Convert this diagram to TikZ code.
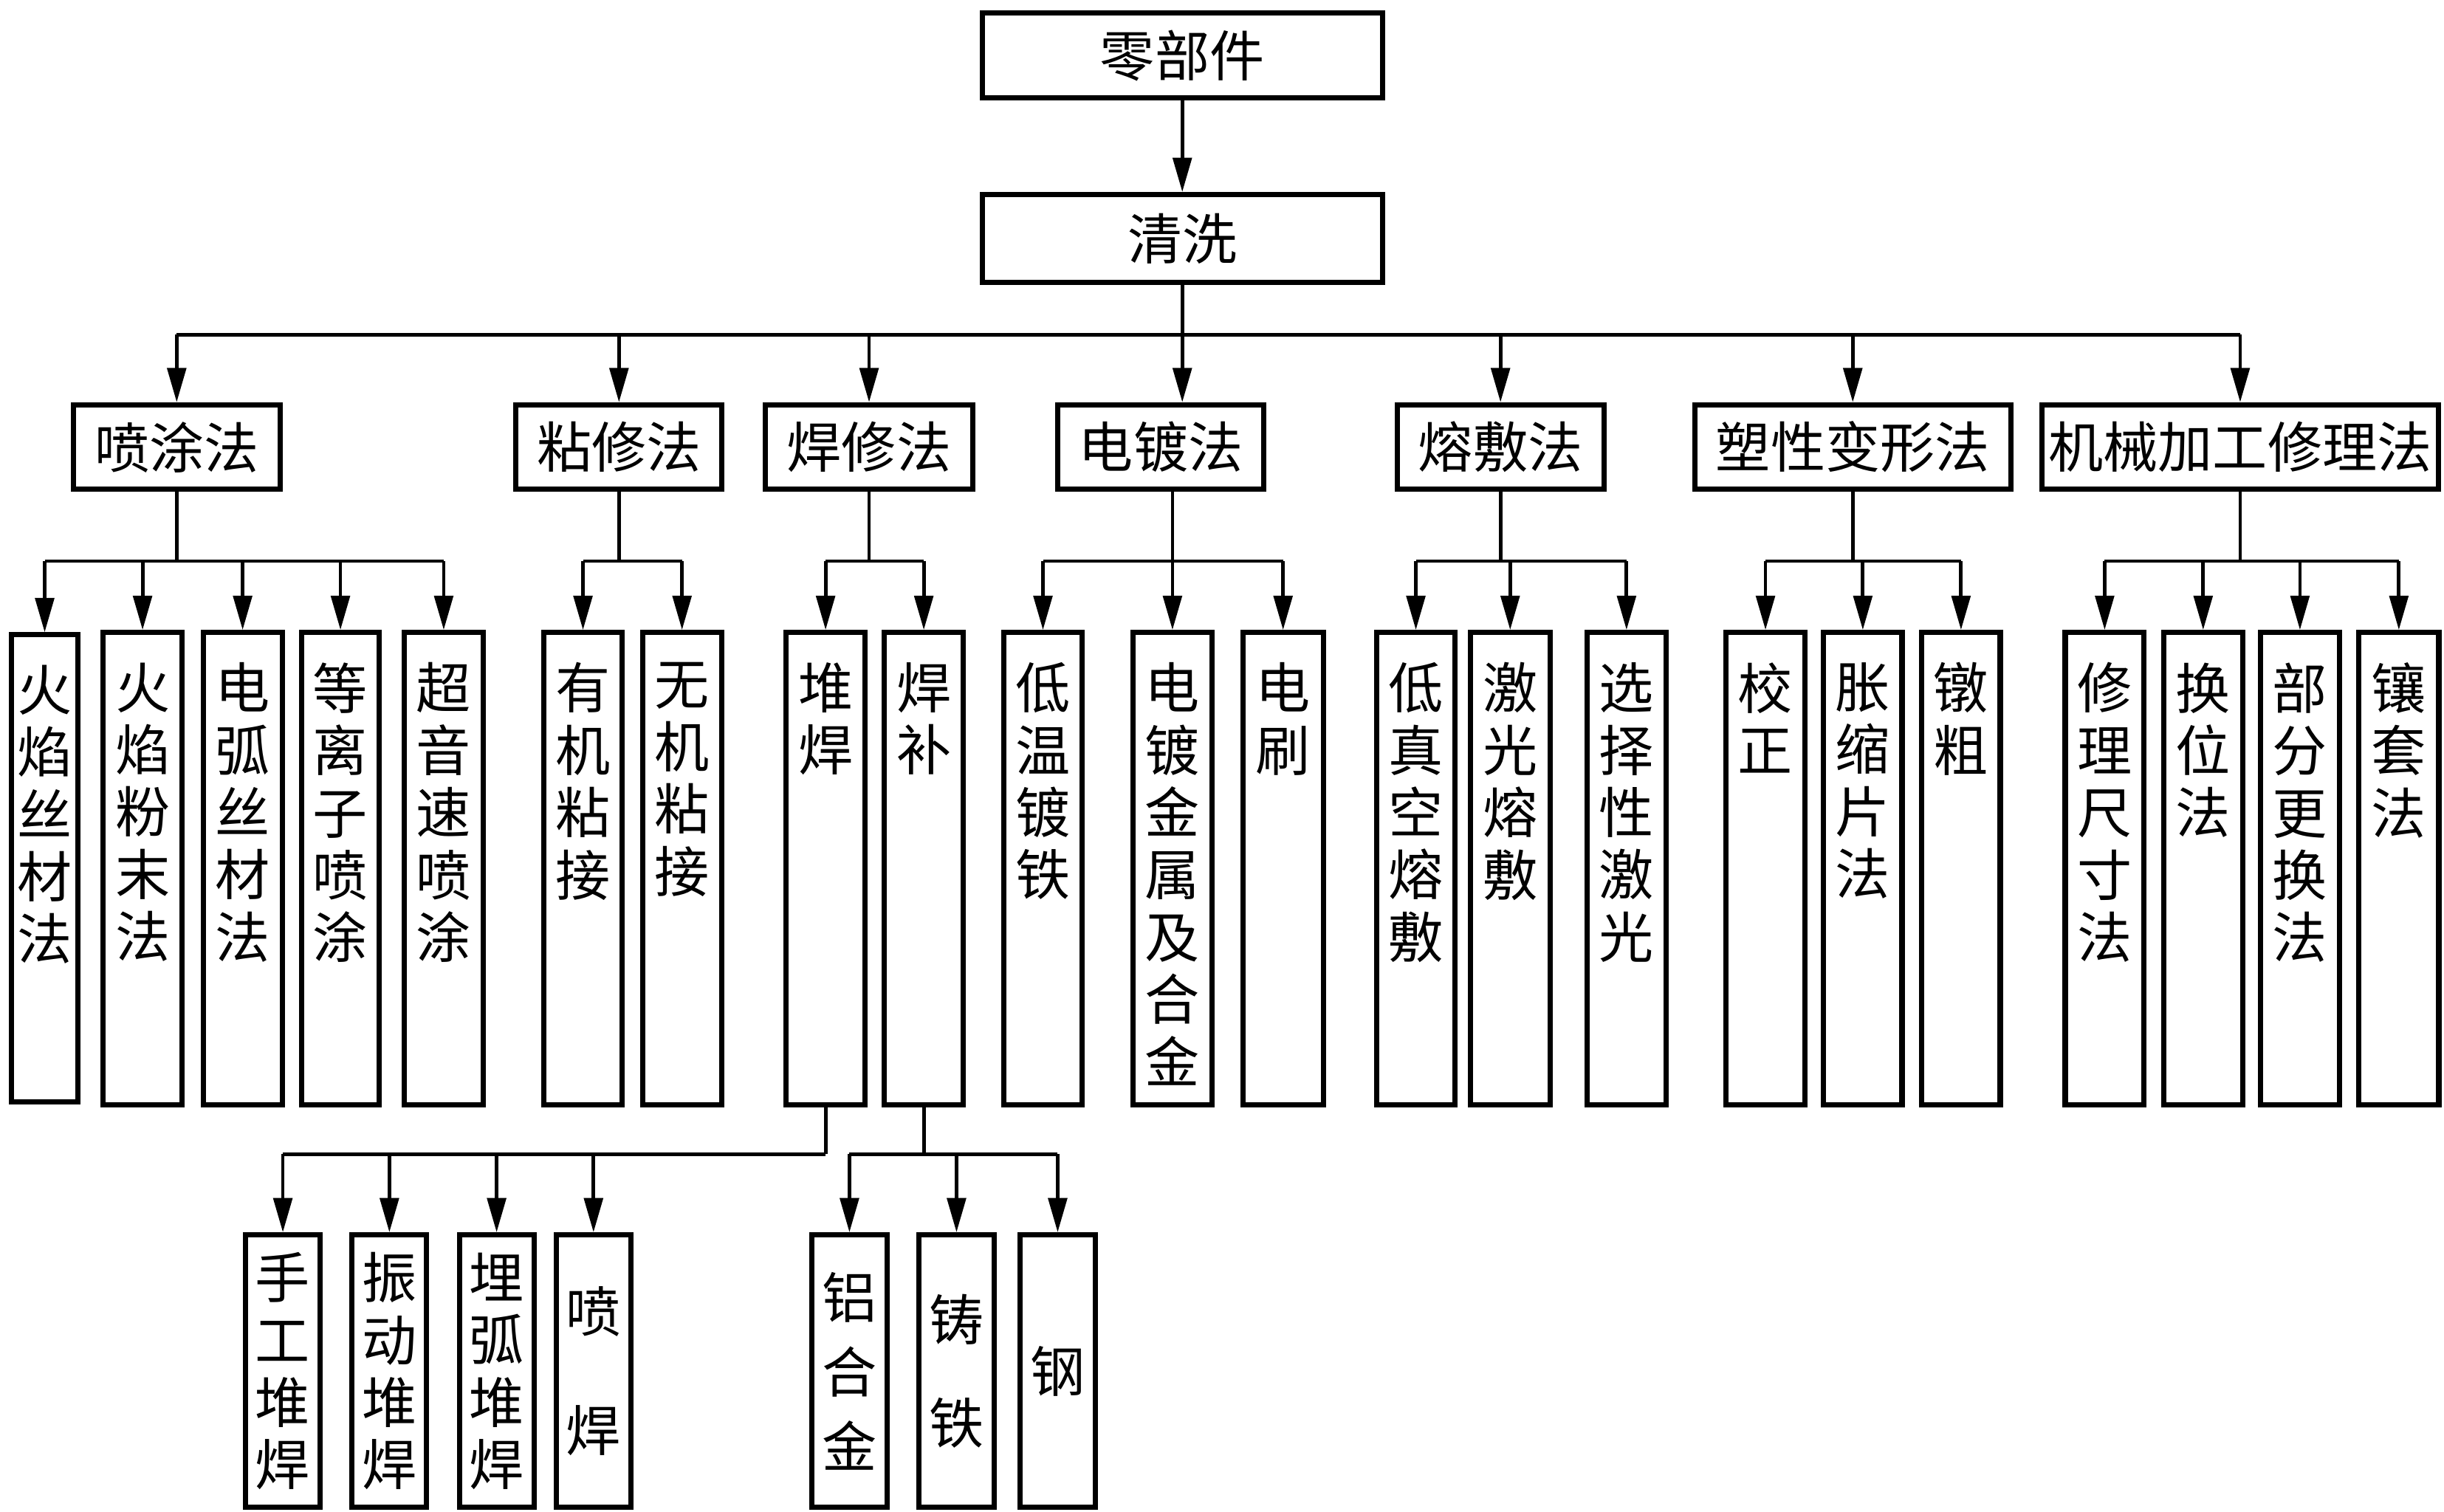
\documentclass[tikz,border=0pt]{standalone}
\usepackage{fontspec}
\setmainfont{Liberation Serif}
\newfontfamily\cjk{Noto Sans CJK SC}
\usetikzlibrary{arrows.meta}
\newlength\lfw
\newlength\lfh
\tikzset{
  bx/.style={draw, line width=1.9pt, inner sep=0pt, font=\cjk\fontsize{20pt}{24pt}\selectfont},
  con/.style={line width=1.3pt},
  arr/.style={con, -{Triangle[length=0.44cm, width=0.24cm]}},
}
% name x1 y1 x2 y2 text
\newcommand\mkbox[6]{%
  \node[bx, anchor=north west, minimum width={(#4-#2-3.4)*0.02cm}, minimum height={(#5-#3-3.4)*0.02cm}] (#1) at ({#2+1.7},{#3+1.7}) {#6};}
% vertical text, top aligned
\newcommand\mkleaf[6]{%
  \pgfmathsetlength\lfw{(#4-#2-3.4)*0.02cm}%
  \pgfmathsetlength\lfh{(#5-#3-3.4)*0.02cm}%
  \node[bx, anchor=north west] (#1) at ({#2+1.7},{#3+1.7})
    {\parbox[c][\lfh][t]{\lfw}{\centering\fontsize{20pt}{22.76pt}\selectfont\vspace*{11pt}#6}};}
% vertical text, centred, given pitch
\newcommand\mklow[7]{%
  \pgfmathsetlength\lfw{(#4-#2-3.4)*0.02cm}%
  \pgfmathsetlength\lfh{(#5-#3-3.4)*0.02cm}%
  \node[bx, anchor=north west] (#1) at ({#2+1.7},{#3+1.7})
    {\parbox[c][\lfh][c]{\lfw}{\centering\fontsize{20pt}{#6}\selectfont #7}};}
\begin{document}
\begin{tikzpicture}[x=0.02cm, y=-0.02cm]
\useasboundingbox (0,0) rectangle (1568,969.7);
% top
\mkbox{top}{626.7}{5}{887}{63}{零部件}
\mkbox{clean}{626.7}{121.5}{887}{181.4}{清洗}
% level 2
\mkbox{p1}{43.7}{256.4}{179.7}{314}{喷涂法}
\mkbox{p2}{327.7}{256.4}{463.2}{314}{粘修法}
\mkbox{p3}{487.8}{256.4}{624}{314}{焊修法}
\mkbox{p4}{675.4}{256.4}{810.8}{314}{电镀法}
\mkbox{p5}{893}{256.4}{1029}{314}{熔敷法}
\mkbox{p6}{1084}{256.4}{1290}{314}{塑性变形法}
\mkbox{p7}{1306.5}{256.4}{1564.6}{314}{机械加工修理法}
% level 3
\mkleaf{a1}{4}{404}{50}{707}{火\\焰\\丝\\材\\法}
\mkleaf{a2}{62.6}{402.5}{117}{709}{火\\焰\\粉\\末\\法}
\mkleaf{a3}{127}{402.5}{181}{709}{电\\弧\\丝\\材\\法}
\mkleaf{a4}{190}{402.5}{243.5}{709}{等\\离\\子\\喷\\涂}
\mkleaf{a5}{256}{402.5}{310}{709}{超\\音\\速\\喷\\涂}
\mkleaf{b1}{345.7}{402.5}{399}{709}{有\\机\\粘\\接}
\mkleaf{b2}{408.8}{402.5}{463}{709}{无\\机\\粘\\接}
\mkleaf{c1}{501}{402.5}{555}{709}{堆\\焊}
\mkleaf{c2}{564}{402.5}{618}{709}{焊\\补}
\mkleaf{d1}{640.5}{402.5}{694.4}{709}{低\\温\\镀\\铁}
\mkleaf{d2}{723.6}{402.5}{777.5}{709}{电\\镀\\金\\属\\及\\合\\金}
\mkleaf{d3}{794}{402.5}{849}{709}{电\\刷}
\mkleaf{e1}{879.7}{402.5}{933.7}{709}{低\\真\\空\\熔\\敷}
\mkleaf{e2}{940}{402.5}{994.4}{709}{激\\光\\熔\\敷}
\mkleaf{e3}{1014.7}{402.5}{1069}{709}{选\\择\\性\\激\\光}
\mkleaf{f1}{1104}{402.5}{1158}{709}{校\\正}
\mkleaf{f2}{1166.6}{402.5}{1220.3}{709}{胀\\缩\\片\\法}
\mkleaf{f3}{1229.6}{402.5}{1283.3}{709}{镦\\粗}
\mkleaf{g1}{1321.6}{402.5}{1375.6}{709}{修\\理\\尺\\寸\\法}
\mkleaf{g2}{1384.7}{402.5}{1438.9}{709}{换\\位\\法}
\mkleaf{g3}{1447}{402.5}{1500.8}{709}{部\\分\\更\\换\\法}
\mkleaf{g4}{1510}{402.5}{1564.7}{709}{镶\\套\\法}
% level 4
\mklow{h1}{154}{789}{205.6}{967.3}{22.76pt}{手\\工\\堆\\焊}
\mklow{h2}{222.5}{789}{273.8}{967.3}{22.76pt}{振\\动\\堆\\焊}
\mklow{h3}{291.3}{789}{342.6}{967.3}{22.76pt}{埋\\弧\\堆\\焊}
\mklow{h4}{353.4}{789}{404.8}{967.3}{43.5pt}{喷\\焊}
\mklow{k1}{517.3}{789}{569.3}{967.3}{27.3pt}{铝\\合\\金}
\mklow{k2}{586}{789}{638}{967.3}{37.6pt}{铸\\铁}
\mklow{k3}{651}{789}{702.8}{967.3}{22.76pt}{钢}
% connectors
\draw[arr] (top.south) -- (clean.north);
\coordinate (busA) at (0,214.8);
\draw[con] (clean.south) -- (clean.south |- busA);
\draw[con] (p1.north |- busA) -- (p7.north |- busA);
\foreach \p in {p1,p2,p3,p5,p6,p7} \draw[arr] (\p.north |- busA) -- (\p.north);
\draw[arr] (clean.south |- busA) -- (clean.south |- p4.north);
\coordinate (busB) at (0,360);
% 喷涂法
\draw[con] (p1.south) -- (p1.south |- busB);
\draw[con] (a1.north |- busB) -- (a5.north |- busB);
\foreach \c in {a1,a2,a3,a4,a5} \draw[arr] (\c.north |- busB) -- (\c.north);
% 粘修法
\draw[con] (p2.south) -- (p2.south |- busB);
\draw[con] (b1.north |- busB) -- (b2.north |- busB);
\foreach \c in {b1,b2} \draw[arr] (\c.north |- busB) -- (\c.north);
% 焊修法
\draw[con] (p3.south) -- (p3.south |- busB);
\draw[con] (c1.north |- busB) -- (c2.north |- busB);
\foreach \c in {c1,c2} \draw[arr] (\c.north |- busB) -- (\c.north);
% 电镀法
\draw[con] (d2.north |- p4.south) -- (d2.north |- busB);
\draw[con] (d1.north |- busB) -- (d3.north |- busB);
\foreach \c in {d1,d2,d3} \draw[arr] (\c.north |- busB) -- (\c.north);
% 熔敷法
\draw[con] (p5.south) -- (p5.south |- busB);
\draw[con] (e1.north |- busB) -- (e3.north |- busB);
\foreach \c in {e1,e2,e3} \draw[arr] (\c.north |- busB) -- (\c.north);
% 塑性变形法
\draw[con] (p6.south) -- (p6.south |- busB);
\draw[con] (f1.north |- busB) -- (f3.north |- busB);
\foreach \c in {f1,f2,f3} \draw[arr] (\c.north |- busB) -- (\c.north);
% 机械加工修理法
\draw[con] (p7.south) -- (p7.south |- busB);
\draw[con] (g1.north |- busB) -- (g4.north |- busB);
\foreach \c in {g1,g2,g3,g4} \draw[arr] (\c.north |- busB) -- (\c.north);
% 堆焊
\coordinate (busC) at (0,740.6);
\draw[con] (c1.south) -- (c1.south |- busC);
\draw[con] (h1.north |- busC) -- (c1.south |- busC);
\foreach \c in {h1,h2,h3,h4} \draw[arr] (\c.north |- busC) -- (\c.north);
% 焊补
\draw[con] (c2.south) -- (c2.south |- busC);
\draw[con] (k1.north |- busC) -- (k3.north |- busC);
\foreach \c in {k1,k2,k3} \draw[arr] (\c.north |- busC) -- (\c.north);
\end{tikzpicture}
\end{document}
